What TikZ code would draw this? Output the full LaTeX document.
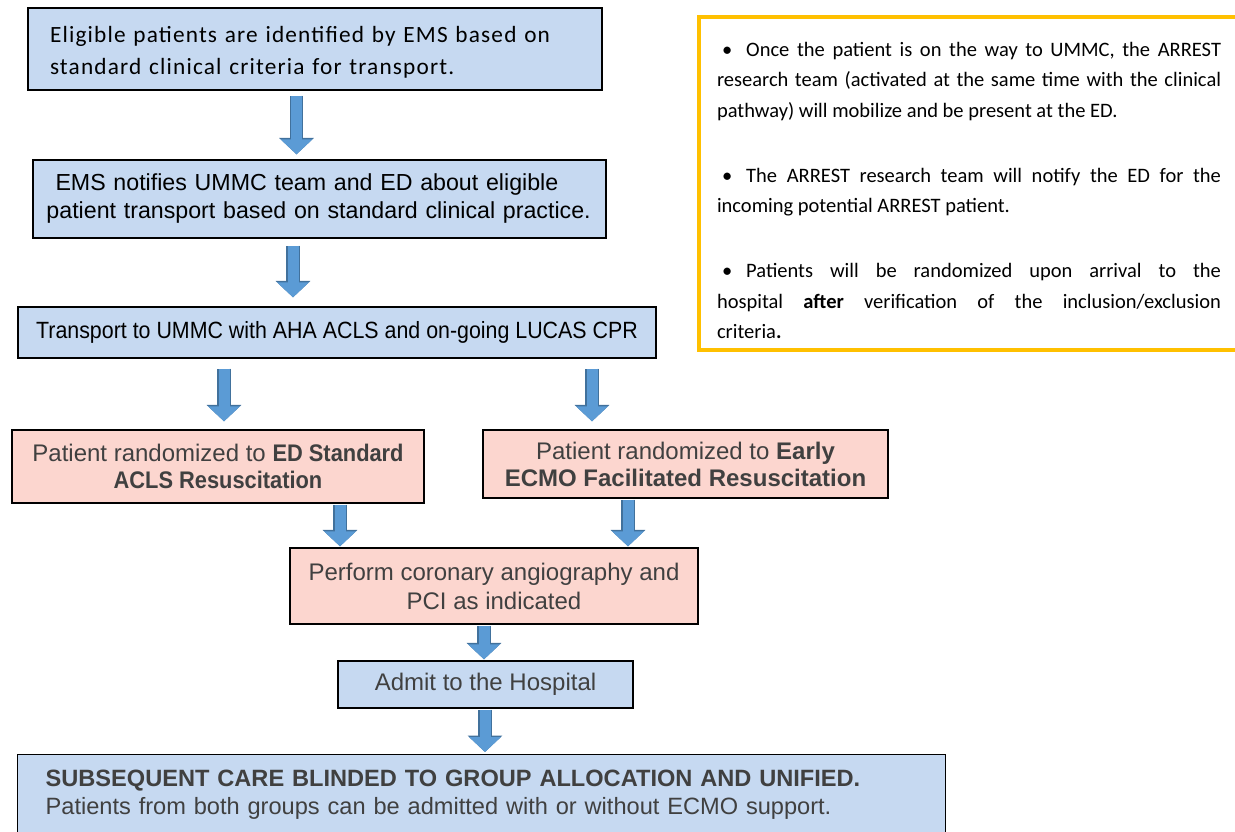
\documentclass[tikz,border=0pt]{standalone}
\usepackage{fontspec}
\setmainfont{Carlito}
\newfontfamily\spacedfont{Carlito}[LetterSpace=5]
\newfontfamily\arialfont{Liberation Sans}
\newfontfamily\narrowfont{Liberation Sans}[FakeStretch=0.91]
\usetikzlibrary{arrows.meta,positioning,calc}
\hyphenpenalty=10000
\exhyphenpenalty=10000
\definecolor{boxblue}{HTML}{C6D9F1}
\definecolor{boxpink}{HTML}{FCD6CF}
\definecolor{arrowblue}{HTML}{5B9BD5}
\definecolor{arrowedge}{HTML}{41719C}
\definecolor{notegold}{HTML}{FFC000}
\definecolor{textgray}{HTML}{404040}
\tikzset{
	block/.style = {draw, fill=boxblue, rectangle, line width=1.3pt, inner ysep=0pt},
	pinkblock/.style = {block, fill=boxpink, text=textgray},
	note/.style = {draw=notegold, line width=4pt, rectangle, inner sep=0pt},
	flow/.style = {draw=arrowblue, line width=11pt, -{Triangle[width=31pt,length=15pt]},
		preaction={draw=arrowedge, line width=13.5pt, -{Triangle[width=34pt,length=16.5pt]}}}
}

\begin{document}
\begin{tikzpicture}[x=1pt,y=-1pt]
\useasboundingbox (0,0) rectangle (1235,832);

% clinical pathway
\node [block, minimum width=574pt, minimum height=82pt, text width=530pt, align=left,
	font=\spacedfont\fontsize{23.3}{32}\selectfont] (identify) at (315,49)
	{\rule{0pt}{23.5pt}Eligible patients are identified by EMS based on\\ standard clinical criteria for transport.};
\node [block, minimum width=573pt, minimum height=78pt, text width=556pt, align=left,
	font=\arialfont\fontsize{23.2}{28}\selectfont] (notify) at (319.5,199)
	{\hspace{14pt}EMS notifies UMMC team and ED about eligible\\ \hspace{5pt}patient transport based on standard clinical practice.};
\node [block, minimum width=638pt, minimum height=51pt, align=center,
	font=\narrowfont\fontsize{23.5}{28}\selectfont] (transport) at (337,332.5)
	{Transport to UMMC with AHA ACLS and on-going LUCAS CPR};

% randomization
\node [pinkblock, minimum width=412pt, minimum height=73pt, align=center,
	font=\arialfont\fontsize{24}{27}\selectfont] (standard) at (218,466.5)
	{Patient randomized to {\narrowfont\bfseries ED Standard}\\ {\narrowfont\bfseries ACLS Resuscitation}};
\node [pinkblock, minimum width=405pt, minimum height=68pt, align=center,
	font=\arialfont\fontsize{24}{27}\selectfont] (ecmo) at (685.5,464)
	{Patient randomized to \textbf{Early}\\ \textbf{ECMO Facilitated Resuscitation}};
\node [pinkblock, minimum width=408pt, minimum height=76pt, align=center,
	font=\arialfont\fontsize{24}{29}\selectfont] (angio) at (494,586)
	{Perform coronary angiography and\\ PCI as indicated};
\node [block, text=textgray, minimum width=295pt, minimum height=47pt, align=center,
	font=\arialfont\fontsize{24}{29}\selectfont] (admit) at (485.5,684.5)
	{Admit to the Hospital};
\node [block, text=textgray, anchor=north west, minimum width=928pt, text width=872pt, inner ysep=15pt, align=left,
	font=\arialfont\fontsize{23.6}{28}\selectfont] (care) at (17,754)
	{{\bfseries SUBSEQUENT CARE BLINDED TO GROUP ALLOCATION AND UNIFIED.}\\
	 Patients from both groups can be admitted with or without ECMO support.\\[30pt]\mbox{}};

% research team note
\node [note, minimum width=540pt, minimum height=333pt, text width=504pt, align=justify,
	font=\fontsize{20.5}{30.5}\selectfont] (research) at (969,183.5)
	{\noindent\rule{0pt}{28.5pt}\hspace{5pt}\textbullet\hspace{14pt}Once the patient is on the way to UMMC, the ARREST\linebreak research team (activated at the same time with the clinical\linebreak pathway) will mobilize and be present at the ED.\par\vspace{34.5pt}
	\noindent\hspace{5pt}\textbullet\hspace{14pt}The ARREST research team will notify the ED for the\linebreak incoming potential ARREST patient.\par\vspace{34.5pt}
	\noindent\hspace{5pt}\textbullet\hspace{14pt}Patients will be randomized upon arrival to the\linebreak hospital \textbf{after} verification of the inclusion/exclusion\linebreak criteria\textbf{.}};

% arrows
\coordinate (c1) at (296.5,0);
\coordinate (c2) at (293,0);
\coordinate (c3) at (224,0);
\coordinate (c4) at (592,0);
\coordinate (c5) at (340,0);
\coordinate (c6) at (628,0);
\coordinate (c7) at (484,0);
\coordinate (c8) at (485,0);
\draw [flow, shorten <=5pt, shorten >=5pt] (identify.south -| c1) -- (notify.north -| c1);
\draw [flow, shorten <=7pt, shorten >=9pt] (notify.south -| c2) -- (transport.north -| c2);
\draw [flow, shorten <=10pt, shorten >=8pt] (transport.south -| c3) -- (standard.north -| c3);
\draw [flow, shorten <=10pt, shorten >=8pt] (transport.south -| c4) -- (ecmo.north -| c4);
\draw [flow, shorten <=1pt, shorten >=1pt] (standard.south -| c5) -- (angio.north -| c5);
\draw [flow, shorten <=1pt, shorten >=1pt] (ecmo.south -| c6) -- (angio.north -| c6);
\draw [flow, shorten <=1pt, shorten >=1pt] (angio.south -| c7) -- (admit.north -| c7);
\draw [flow, shorten <=1pt, shorten >=2pt] (admit.south -| c8) -- (care.north -| c8);
\end{tikzpicture}
\end{document}
